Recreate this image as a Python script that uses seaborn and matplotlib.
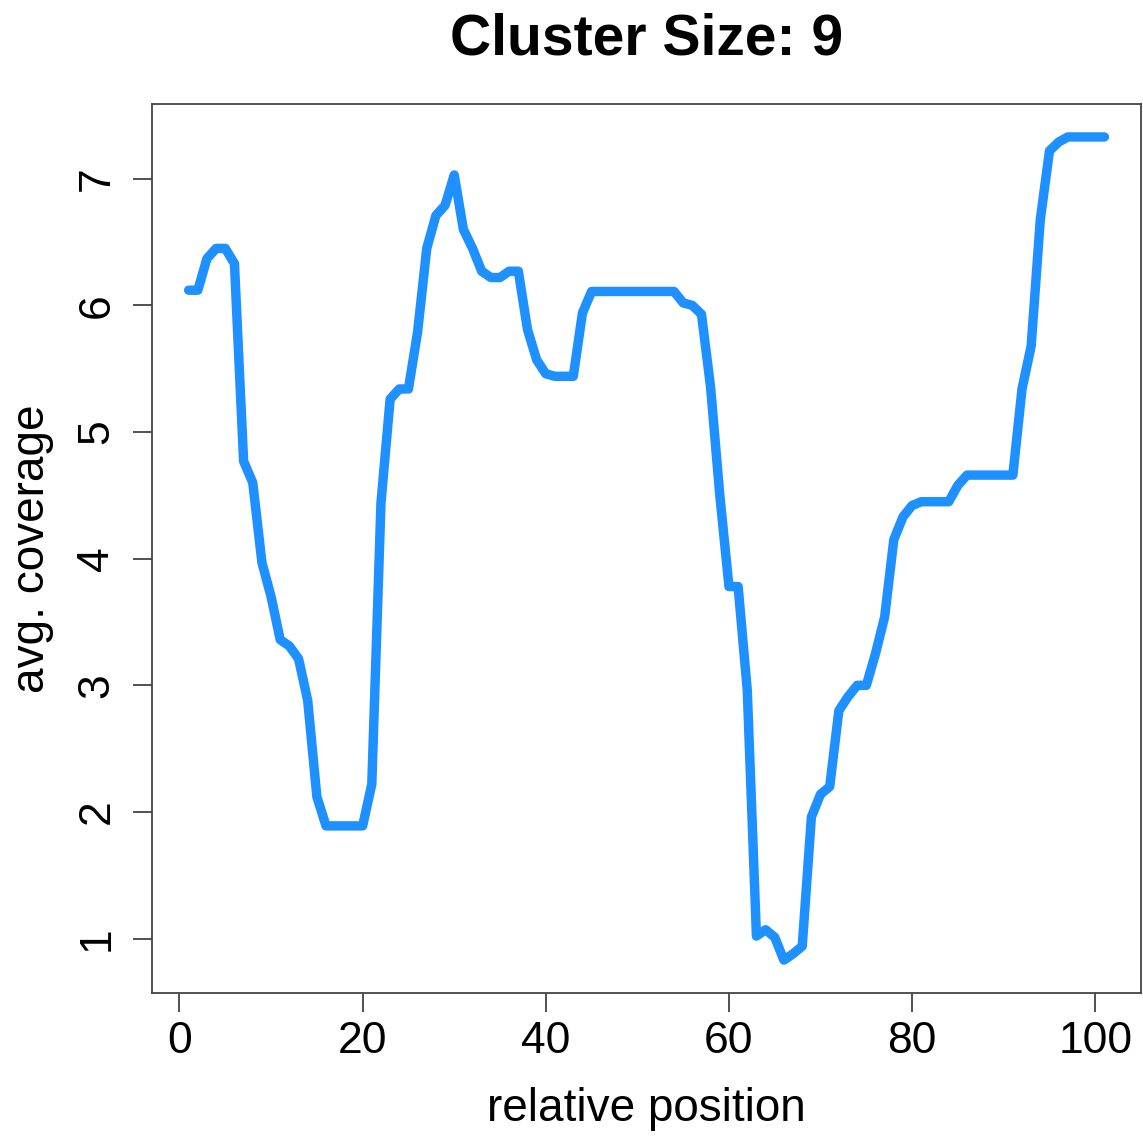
import numpy as np
import pandas as pd
import matplotlib
matplotlib.use("Agg")
import matplotlib.pyplot as plt
import seaborn as sns

# relative position 1..101 and the average coverage
position = list(range(1, 102))
coverage = [
    6.12, 6.12, 6.37, 6.45, 6.45, 6.33, 4.77, 4.60, 3.97, 3.70,
    3.36, 3.31, 3.21, 2.88, 2.12, 1.89, 1.89, 1.89, 1.89, 1.89,
    2.22, 4.44, 5.26, 5.34, 5.34, 5.79, 6.45, 6.71, 6.79, 7.03,
    6.60, 6.45, 6.27, 6.22, 6.22, 6.27, 6.27, 5.81, 5.57, 5.46,
    5.44, 5.44, 5.44, 5.94, 6.11, 6.11, 6.11, 6.11, 6.11, 6.11,
    6.11, 6.11, 6.11, 6.11, 6.02, 6.00, 5.93, 5.35, 4.50, 3.78,
    3.78, 2.96, 1.02, 1.07, 1.01, 0.83, 0.88, 0.94, 1.96, 2.14,
    2.20, 2.80, 2.91, 3.00, 3.00, 3.25, 3.54, 4.15, 4.33, 4.42,
    4.45, 4.45, 4.45, 4.45, 4.58, 4.66, 4.66, 4.66, 4.66, 4.66,
    4.66, 5.34, 5.68, 6.68, 7.22, 7.29, 7.33, 7.33, 7.33, 7.33,
    7.33,
]
x_ticks = [0, 20, 40, 60, 80, 100]
y_ticks = [1, 2, 3, 4, 5, 6, 7]
cluster_size = 9

df = pd.DataFrame({"position": position, "coverage": coverage})

sns.set_style("white")
plt.rcParams["font.family"] = ["Liberation Sans", "DejaVu Sans"]

fig = plt.figure(figsize=(11.43, 11.37), dpi=100)
ax = fig.add_axes([0.133, 0.1266, 0.8653, 0.7819])

sns.lineplot(data=df, x="position", y="coverage", ax=ax, color="#1E90FF",
             linewidth=6.8, solid_capstyle="round", solid_joinstyle="round")

# R style 4% padding on both axes
xr = max(position) - min(position)
yr = max(coverage) - min(coverage)
ax.set_xlim(min(position) - 0.04 * xr, max(position) + 0.04 * xr)
ax.set_ylim(min(coverage) - 0.04 * yr, max(coverage) + 0.04 * yr)

ax.set_xticks(x_ticks)
ax.set_yticks(y_ticks)
ax.tick_params(axis="both", direction="out", length=14, width=1.2,
               color="#333333", labelsize=32, labelcolor="black",
               bottom=True, left=True)
ax.tick_params(axis="x", pad=6)
ax.tick_params(axis="y", pad=11)
for lab in ax.get_yticklabels():
    lab.set_rotation(90)
    lab.set_va("center")

for sp in ax.spines.values():
    sp.set_visible(True)
    sp.set_color("#444444")
    sp.set_linewidth(1.3)

ax.set_xlabel("relative position", fontsize=33, labelpad=18, color="black")
ax.set_ylabel("avg. coverage", fontsize=33, labelpad=16, color="black")
ax.set_title(f"Cluster Size: {cluster_size}", fontsize=41, fontweight="bold",
             pad=36, color="black")

fig.savefig("out.png", dpi=100, facecolor="white")
